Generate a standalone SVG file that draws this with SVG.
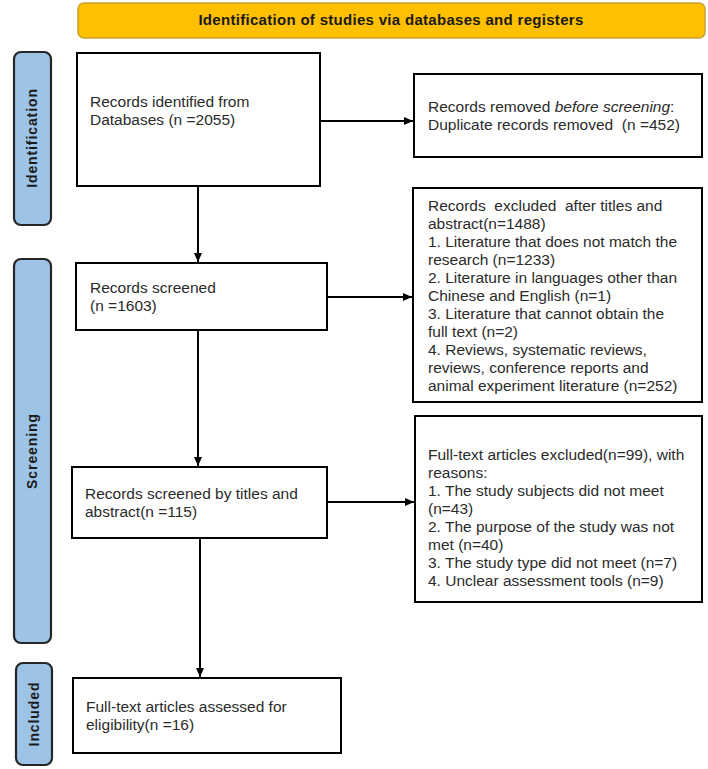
<svg xmlns="http://www.w3.org/2000/svg" width="708" height="769" viewBox="0 0 708 769">
<defs>
<style>
.box{fill:#fff;stroke:#000;stroke-width:2}
.tab{fill:#9DC3E6;stroke:#262626;stroke-width:2.2}
.t{font-family:"Liberation Sans",Arial,sans-serif;font-size:15.5px;fill:#2b2b2b}
.tl{font-family:"Liberation Sans",Arial,sans-serif;font-size:14px;font-weight:bold;fill:#1a1a1a;text-anchor:middle;letter-spacing:0.9px}
.hd{font-family:"Liberation Sans",Arial,sans-serif;font-size:15px;font-weight:bold;fill:#1a1a1a;text-anchor:middle;letter-spacing:0.3px}
.c{stroke:#000;stroke-width:2;fill:none}
.pre{white-space:pre}
</style>
<marker id="ah" markerUnits="userSpaceOnUse" markerWidth="10" markerHeight="10" refX="9" refY="5" orient="auto">
<path d="M0,1 L9,5 L0,9 z" fill="#000"/>
</marker>
</defs>
<rect width="708" height="769" fill="#fff"/>

<g id="header">
<rect x="78" y="3" width="627" height="35" rx="6" fill="#FFC000" stroke="#C9A030" stroke-width="1.5"/>
<text class="hd" x="391" y="25">Identification of studies via databases and registers</text>
</g>

<g id="tab-identification">
<rect class="tab" x="14" y="52" width="37" height="173" rx="7"/>
<text class="tl" transform="translate(37,138) rotate(-90)">Identification</text>
</g>
<g id="tab-screening">
<rect class="tab" x="14" y="259" width="37" height="384" rx="7"/>
<text class="tl" transform="translate(37,451) rotate(-90)">Screening</text>
</g>
<g id="tab-included">
<rect class="tab" x="16" y="663" width="36" height="102" rx="7"/>
<text class="tl" transform="translate(39,714) rotate(-90)">Included</text>
</g>

<g id="records-identified">
<rect class="box" x="77" y="53" width="243" height="133"/>
<text class="t" x="90" y="107">Records identified from</text>
<text class="t" x="90" y="125">Databases (n =2055)</text>
</g>

<g id="records-removed">
<rect class="box" x="414" y="74" width="288" height="83"/>
<text class="t" x="428" y="112">Records removed <tspan font-style="italic">before screening</tspan>:</text>
<text class="t pre" x="428" y="130" xml:space="preserve">Duplicate records removed  (n =452)</text>
</g>

<g id="records-screened">
<rect class="box" x="76" y="263" width="251" height="67"/>
<text class="t" x="90" y="293">Records screened</text>
<text class="t" x="90" y="311">(n =1603)</text>
</g>

<g id="records-excluded">
<rect class="box" x="413" y="188" width="289" height="214"/>
<text class="t pre" x="428" y="211" xml:space="preserve">Records  excluded  after titles and</text>
<text class="t" x="428" y="229">abstract(n=1488)</text>
<text class="t" x="428" y="247">1. Literature that does not match the</text>
<text class="t" x="428" y="265">research (n=1233)</text>
<text class="t" x="428" y="283">2. Literature in languages other than</text>
<text class="t" x="428" y="301">Chinese and English (n=1)</text>
<text class="t" x="428" y="319">3. Literature that cannot obtain the</text>
<text class="t" x="428" y="337">full text (n=2)</text>
<text class="t" x="428" y="355">4. Reviews, systematic reviews,</text>
<text class="t" x="428" y="373">reviews, conference reports and</text>
<text class="t" x="428" y="391">animal experiment literature (n=252)</text>
</g>

<g id="records-screened-titles">
<rect class="box" x="72" y="467" width="255" height="71"/>
<text class="t" x="85" y="499">Records screened by titles and</text>
<text class="t" x="85" y="517">abstract(n =115)</text>
</g>

<g id="fulltext-excluded">
<rect class="box" x="415" y="416" width="287" height="186"/>
<text class="t" x="428" y="460">Full-text articles excluded(n=99), with</text>
<text class="t" x="428" y="478">reasons:</text>
<text class="t" x="428" y="496">1. The study subjects did not meet</text>
<text class="t" x="428" y="514">(n=43)</text>
<text class="t" x="428" y="532">2. The purpose of the study was not</text>
<text class="t" x="428" y="550">met (n=40)</text>
<text class="t" x="428" y="568">3. The study type did not meet (n=7)</text>
<text class="t" x="428" y="586">4. Unclear assessment tools (n=9)</text>
</g>

<g id="included">
<rect class="box" x="73" y="678" width="268" height="75"/>
<text class="t" x="86" y="712">Full-text articles assessed for</text>
<text class="t" x="86" y="730">eligibility(n =16)</text>
</g>

<g id="connectors">
<line class="c" x1="320" y1="121" x2="413" y2="121" marker-end="url(#ah)"/>
<line class="c" x1="198" y1="186" x2="198" y2="262" marker-end="url(#ah)"/>
<line class="c" x1="327" y1="297" x2="412" y2="297" marker-end="url(#ah)"/>
<line class="c" x1="198" y1="330" x2="198" y2="466" marker-end="url(#ah)"/>
<line class="c" x1="327" y1="502" x2="414" y2="502" marker-end="url(#ah)"/>
<line class="c" x1="200" y1="538" x2="200" y2="677" marker-end="url(#ah)"/>
</g>
</svg>
